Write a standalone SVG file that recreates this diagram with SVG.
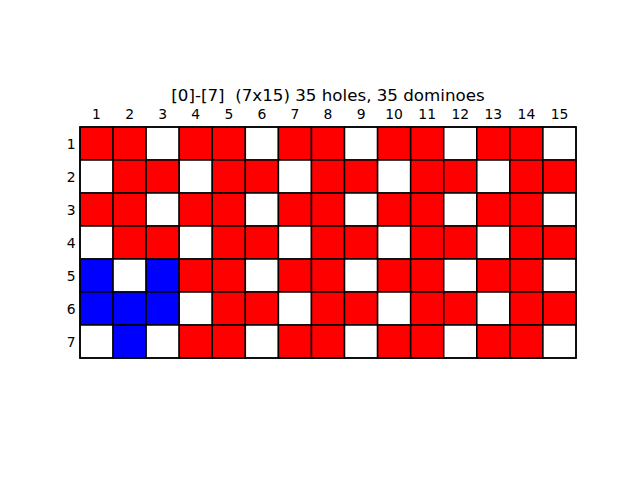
<svg xmlns="http://www.w3.org/2000/svg" width="640" height="480" viewBox="0 0 640 480">
<style>
text{font-family:"DejaVu Sans",sans-serif;fill:#000;white-space:pre}
.t{font-size:16.7px;text-anchor:middle}
.c{font-size:13.9px;text-anchor:middle}
.r{font-size:13.9px;text-anchor:end}
.R,.W,.B{stroke:#000;stroke-width:1.5}
.R{fill:#ff0000}.W{fill:#ffffff}.B{fill:#0000ff}
.bg{fill:#fff;stroke:none}
.frame{fill:none;stroke:#000;stroke-width:1.5}
</style>
<rect class="bg" x="0" y="0" width="640" height="480"/>
<text class="t" x="328" y="100.5" xml:space="preserve">[0]-[7]  (7x15) 35 holes, 35 dominoes</text>
<g id="collabels">
<text class="c" x="96.5" y="119">1</text>
<text class="c" x="129.6" y="119">2</text>
<text class="c" x="162.7" y="119">3</text>
<text class="c" x="195.7" y="119">4</text>
<text class="c" x="228.8" y="119">5</text>
<text class="c" x="261.9" y="119">6</text>
<text class="c" x="294.9" y="119">7</text>
<text class="c" x="328" y="119">8</text>
<text class="c" x="361.1" y="119">9</text>
<text class="c" x="394.1" y="119">10</text>
<text class="c" x="427.2" y="119">11</text>
<text class="c" x="460.3" y="119">12</text>
<text class="c" x="493.3" y="119">13</text>
<text class="c" x="526.4" y="119">14</text>
<text class="c" x="559.5" y="119">15</text>
</g>
<g id="rowlabels">
<text class="r" x="75.5" y="148.5">1</text>
<text class="r" x="75.5" y="181.5">2</text>
<text class="r" x="75.5" y="214.5">3</text>
<text class="r" x="75.5" y="247.5">4</text>
<text class="r" x="75.5" y="280.5">5</text>
<text class="r" x="75.5" y="313.5">6</text>
<text class="r" x="75.5" y="346.5">7</text>
</g>
<g id="row1">
<rect class="R" x="80" y="127" width="33.07" height="33"/>
<rect class="R" x="113.07" y="127" width="33.07" height="33"/>
<rect class="W" x="146.13" y="127" width="33.07" height="33"/>
<rect class="R" x="179.2" y="127" width="33.07" height="33"/>
<rect class="R" x="212.27" y="127" width="33.07" height="33"/>
<rect class="W" x="245.33" y="127" width="33.07" height="33"/>
<rect class="R" x="278.4" y="127" width="33.07" height="33"/>
<rect class="R" x="311.47" y="127" width="33.07" height="33"/>
<rect class="W" x="344.53" y="127" width="33.07" height="33"/>
<rect class="R" x="377.6" y="127" width="33.07" height="33"/>
<rect class="R" x="410.67" y="127" width="33.07" height="33"/>
<rect class="W" x="443.73" y="127" width="33.07" height="33"/>
<rect class="R" x="476.8" y="127" width="33.07" height="33"/>
<rect class="R" x="509.87" y="127" width="33.07" height="33"/>
<rect class="W" x="542.93" y="127" width="33.07" height="33"/>
</g>
<g id="row2">
<rect class="W" x="80" y="160" width="33.07" height="33"/>
<rect class="R" x="113.07" y="160" width="33.07" height="33"/>
<rect class="R" x="146.13" y="160" width="33.07" height="33"/>
<rect class="W" x="179.2" y="160" width="33.07" height="33"/>
<rect class="R" x="212.27" y="160" width="33.07" height="33"/>
<rect class="R" x="245.33" y="160" width="33.07" height="33"/>
<rect class="W" x="278.4" y="160" width="33.07" height="33"/>
<rect class="R" x="311.47" y="160" width="33.07" height="33"/>
<rect class="R" x="344.53" y="160" width="33.07" height="33"/>
<rect class="W" x="377.6" y="160" width="33.07" height="33"/>
<rect class="R" x="410.67" y="160" width="33.07" height="33"/>
<rect class="R" x="443.73" y="160" width="33.07" height="33"/>
<rect class="W" x="476.8" y="160" width="33.07" height="33"/>
<rect class="R" x="509.87" y="160" width="33.07" height="33"/>
<rect class="R" x="542.93" y="160" width="33.07" height="33"/>
</g>
<g id="row3">
<rect class="R" x="80" y="193" width="33.07" height="33"/>
<rect class="R" x="113.07" y="193" width="33.07" height="33"/>
<rect class="W" x="146.13" y="193" width="33.07" height="33"/>
<rect class="R" x="179.2" y="193" width="33.07" height="33"/>
<rect class="R" x="212.27" y="193" width="33.07" height="33"/>
<rect class="W" x="245.33" y="193" width="33.07" height="33"/>
<rect class="R" x="278.4" y="193" width="33.07" height="33"/>
<rect class="R" x="311.47" y="193" width="33.07" height="33"/>
<rect class="W" x="344.53" y="193" width="33.07" height="33"/>
<rect class="R" x="377.6" y="193" width="33.07" height="33"/>
<rect class="R" x="410.67" y="193" width="33.07" height="33"/>
<rect class="W" x="443.73" y="193" width="33.07" height="33"/>
<rect class="R" x="476.8" y="193" width="33.07" height="33"/>
<rect class="R" x="509.87" y="193" width="33.07" height="33"/>
<rect class="W" x="542.93" y="193" width="33.07" height="33"/>
</g>
<g id="row4">
<rect class="W" x="80" y="226" width="33.07" height="33"/>
<rect class="R" x="113.07" y="226" width="33.07" height="33"/>
<rect class="R" x="146.13" y="226" width="33.07" height="33"/>
<rect class="W" x="179.2" y="226" width="33.07" height="33"/>
<rect class="R" x="212.27" y="226" width="33.07" height="33"/>
<rect class="R" x="245.33" y="226" width="33.07" height="33"/>
<rect class="W" x="278.4" y="226" width="33.07" height="33"/>
<rect class="R" x="311.47" y="226" width="33.07" height="33"/>
<rect class="R" x="344.53" y="226" width="33.07" height="33"/>
<rect class="W" x="377.6" y="226" width="33.07" height="33"/>
<rect class="R" x="410.67" y="226" width="33.07" height="33"/>
<rect class="R" x="443.73" y="226" width="33.07" height="33"/>
<rect class="W" x="476.8" y="226" width="33.07" height="33"/>
<rect class="R" x="509.87" y="226" width="33.07" height="33"/>
<rect class="R" x="542.93" y="226" width="33.07" height="33"/>
</g>
<g id="row5">
<rect class="B" x="80" y="259" width="33.07" height="33"/>
<rect class="W" x="113.07" y="259" width="33.07" height="33"/>
<rect class="B" x="146.13" y="259" width="33.07" height="33"/>
<rect class="R" x="179.2" y="259" width="33.07" height="33"/>
<rect class="R" x="212.27" y="259" width="33.07" height="33"/>
<rect class="W" x="245.33" y="259" width="33.07" height="33"/>
<rect class="R" x="278.4" y="259" width="33.07" height="33"/>
<rect class="R" x="311.47" y="259" width="33.07" height="33"/>
<rect class="W" x="344.53" y="259" width="33.07" height="33"/>
<rect class="R" x="377.6" y="259" width="33.07" height="33"/>
<rect class="R" x="410.67" y="259" width="33.07" height="33"/>
<rect class="W" x="443.73" y="259" width="33.07" height="33"/>
<rect class="R" x="476.8" y="259" width="33.07" height="33"/>
<rect class="R" x="509.87" y="259" width="33.07" height="33"/>
<rect class="W" x="542.93" y="259" width="33.07" height="33"/>
</g>
<g id="row6">
<rect class="B" x="80" y="292" width="33.07" height="33"/>
<rect class="B" x="113.07" y="292" width="33.07" height="33"/>
<rect class="B" x="146.13" y="292" width="33.07" height="33"/>
<rect class="W" x="179.2" y="292" width="33.07" height="33"/>
<rect class="R" x="212.27" y="292" width="33.07" height="33"/>
<rect class="R" x="245.33" y="292" width="33.07" height="33"/>
<rect class="W" x="278.4" y="292" width="33.07" height="33"/>
<rect class="R" x="311.47" y="292" width="33.07" height="33"/>
<rect class="R" x="344.53" y="292" width="33.07" height="33"/>
<rect class="W" x="377.6" y="292" width="33.07" height="33"/>
<rect class="R" x="410.67" y="292" width="33.07" height="33"/>
<rect class="R" x="443.73" y="292" width="33.07" height="33"/>
<rect class="W" x="476.8" y="292" width="33.07" height="33"/>
<rect class="R" x="509.87" y="292" width="33.07" height="33"/>
<rect class="R" x="542.93" y="292" width="33.07" height="33"/>
</g>
<g id="row7">
<rect class="W" x="80" y="325" width="33.07" height="33"/>
<rect class="B" x="113.07" y="325" width="33.07" height="33"/>
<rect class="W" x="146.13" y="325" width="33.07" height="33"/>
<rect class="R" x="179.2" y="325" width="33.07" height="33"/>
<rect class="R" x="212.27" y="325" width="33.07" height="33"/>
<rect class="W" x="245.33" y="325" width="33.07" height="33"/>
<rect class="R" x="278.4" y="325" width="33.07" height="33"/>
<rect class="R" x="311.47" y="325" width="33.07" height="33"/>
<rect class="W" x="344.53" y="325" width="33.07" height="33"/>
<rect class="R" x="377.6" y="325" width="33.07" height="33"/>
<rect class="R" x="410.67" y="325" width="33.07" height="33"/>
<rect class="W" x="443.73" y="325" width="33.07" height="33"/>
<rect class="R" x="476.8" y="325" width="33.07" height="33"/>
<rect class="R" x="509.87" y="325" width="33.07" height="33"/>
<rect class="W" x="542.93" y="325" width="33.07" height="33"/>
</g>
<rect class="frame" x="80" y="127" width="496" height="231"/>
</svg>
